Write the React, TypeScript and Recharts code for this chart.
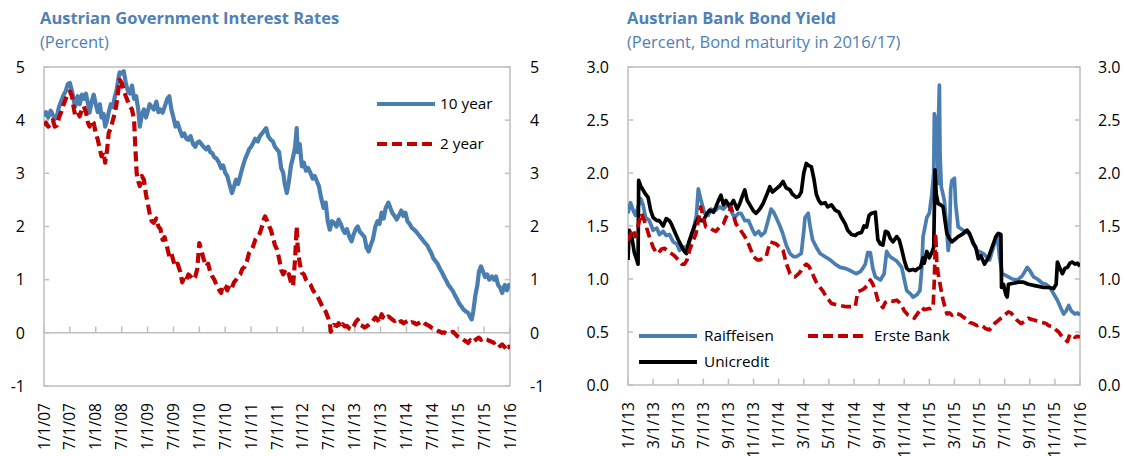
import React from 'react';
import { LineChart, Line, XAxis, YAxis, ReferenceLine, ReferenceArea, Legend } from 'recharts';

const FONT = '"Open Sans", "Noto Sans", sans-serif';
const BLUE = '#4A7EB1';
const RED = '#C00000';
const BORDER = '#BFBFBF';
const TITLE = '#4F81B5';

// ---------- Left chart: Austrian Government Interest Rates ----------
const govTickValues = [2007, 2007.5, 2008, 2008.5, 2009, 2009.5, 2010, 2010.5, 2011, 2011.5, 2012, 2012.5, 2013, 2013.5, 2014, 2014.5, 2015, 2015.5, 2016];
const govTickLabels = ['1/1/07', '7/1/07', '1/1/08', '7/1/08', '1/1/09', '7/1/09', '1/1/10', '7/1/10', '1/1/11', '7/1/11', '1/1/12', '7/1/12', '1/1/13', '7/1/13', '1/1/14', '7/1/14', '1/1/15', '7/1/15', '1/1/16'];
const govYTicks = [-1, 0, 1, 2, 3, 4, 5];

const gov10y: [number, number][] = [
  [2007.00, 4.07], [2007.04, 4.15], [2007.08, 4.05], [2007.13, 4.18], [2007.17, 4.10], [2007.21, 4.02], [2007.25, 4.08], [2007.29, 4.25], [2007.33, 4.35], [2007.38, 4.48], [2007.42, 4.55], [2007.46, 4.68], [2007.50, 4.70], [2007.54, 4.55], [2007.58, 4.35], [2007.60, 4.25], [2007.65, 4.45], [2007.69, 4.30], [2007.73, 4.48], [2007.77, 4.40], [2007.81, 4.50], [2007.85, 4.30], [2007.88, 4.14], [2007.92, 4.35], [2007.96, 4.48],
  [2008.00, 4.30], [2008.04, 4.15], [2008.08, 4.30], [2008.11, 4.05], [2008.15, 4.12], [2008.18, 3.88], [2008.22, 4.00], [2008.25, 4.15], [2008.29, 4.30], [2008.33, 4.25], [2008.37, 4.45], [2008.40, 4.55], [2008.44, 4.80], [2008.46, 4.90], [2008.50, 4.88], [2008.54, 4.92], [2008.58, 4.70], [2008.62, 4.55], [2008.66, 4.50], [2008.70, 4.65], [2008.74, 4.40], [2008.78, 4.45], [2008.82, 4.20], [2008.85, 3.88], [2008.89, 4.10], [2008.93, 4.20], [2008.97, 4.05],
  [2009.00, 4.15], [2009.04, 4.30], [2009.08, 4.25], [2009.12, 4.20], [2009.17, 4.35], [2009.21, 4.15], [2009.25, 4.20], [2009.29, 4.14], [2009.33, 4.25], [2009.38, 4.40], [2009.42, 4.45], [2009.46, 4.20], [2009.50, 4.05], [2009.54, 3.88], [2009.58, 3.95], [2009.63, 3.80], [2009.67, 3.70], [2009.71, 3.75], [2009.75, 3.65], [2009.79, 3.63], [2009.83, 3.70], [2009.88, 3.55], [2009.92, 3.50], [2009.96, 3.58],
  [2010.00, 3.60], [2010.04, 3.55], [2010.08, 3.50], [2010.13, 3.45], [2010.17, 3.50], [2010.21, 3.40], [2010.25, 3.38], [2010.29, 3.30], [2010.33, 3.28], [2010.38, 3.20], [2010.42, 3.10], [2010.46, 3.15], [2010.50, 3.01], [2010.54, 2.95], [2010.58, 2.80], [2010.63, 2.63], [2010.67, 2.75], [2010.71, 2.88], [2010.75, 2.80], [2010.79, 2.95], [2010.83, 3.10], [2010.88, 3.26], [2010.92, 3.35], [2010.96, 3.45],
  [2011.00, 3.50], [2011.04, 3.57], [2011.08, 3.65], [2011.13, 3.60], [2011.17, 3.70], [2011.21, 3.75], [2011.25, 3.80], [2011.29, 3.85], [2011.33, 3.70], [2011.38, 3.63], [2011.42, 3.60], [2011.46, 3.50], [2011.50, 3.45], [2011.54, 3.40], [2011.58, 3.10], [2011.62, 3.01], [2011.65, 2.80], [2011.69, 2.63], [2011.73, 2.85], [2011.77, 3.15], [2011.81, 3.30], [2011.85, 3.50], [2011.88, 3.85], [2011.90, 3.40], [2011.94, 3.55], [2011.98, 3.13],
  [2012.02, 3.20], [2012.06, 3.05], [2012.10, 3.10], [2012.15, 3.00], [2012.19, 2.90], [2012.23, 2.95], [2012.27, 2.85], [2012.31, 2.76], [2012.35, 2.55], [2012.40, 2.35], [2012.44, 2.45], [2012.48, 2.10], [2012.52, 1.94], [2012.56, 2.10], [2012.60, 2.07], [2012.65, 2.00], [2012.69, 2.13], [2012.73, 2.05], [2012.77, 1.95], [2012.81, 1.88], [2012.85, 1.95], [2012.90, 1.80], [2012.94, 1.72], [2012.98, 1.85],
  [2013.02, 1.95], [2013.06, 2.00], [2013.10, 1.90], [2013.15, 1.85], [2013.19, 1.80], [2013.23, 1.60], [2013.27, 1.53], [2013.31, 1.65], [2013.35, 1.75], [2013.40, 2.00], [2013.44, 2.10], [2013.48, 2.05], [2013.52, 2.26], [2013.56, 2.15], [2013.60, 2.35], [2013.65, 2.45], [2013.69, 2.35], [2013.73, 2.25], [2013.77, 2.20], [2013.81, 2.13], [2013.85, 2.20], [2013.90, 2.30], [2013.94, 2.20], [2013.98, 2.26],
  [2014.02, 2.10], [2014.06, 2.05], [2014.10, 1.98], [2014.15, 1.94], [2014.19, 1.90], [2014.23, 1.85], [2014.27, 1.80], [2014.31, 1.75], [2014.35, 1.70], [2014.40, 1.65], [2014.44, 1.57], [2014.48, 1.50], [2014.52, 1.40], [2014.56, 1.35], [2014.60, 1.30], [2014.65, 1.20], [2014.69, 1.13], [2014.73, 1.05], [2014.77, 0.98], [2014.81, 0.90], [2014.85, 0.85], [2014.90, 0.78], [2014.94, 0.70], [2014.98, 0.63],
  [2015.02, 0.55], [2015.06, 0.50], [2015.10, 0.44], [2015.15, 0.40], [2015.19, 0.38], [2015.23, 0.30], [2015.26, 0.25], [2015.29, 0.40], [2015.33, 0.70], [2015.37, 0.90], [2015.40, 1.15], [2015.44, 1.25], [2015.48, 1.15], [2015.52, 1.05], [2015.56, 1.10], [2015.60, 1.00], [2015.65, 1.06], [2015.69, 1.00], [2015.73, 1.06], [2015.77, 0.90], [2015.81, 0.85], [2015.85, 0.75], [2015.90, 0.90], [2015.94, 0.80], [2015.98, 0.90], [2016.00, 0.85],
];

const gov2y: [number, number][] = [
  [2007.00, 3.90], [2007.04, 3.95], [2007.08, 3.88], [2007.13, 3.92], [2007.17, 4.00], [2007.21, 3.88], [2007.25, 3.90], [2007.29, 4.05], [2007.33, 4.15], [2007.38, 4.30], [2007.42, 4.40], [2007.46, 4.50], [2007.50, 4.54], [2007.54, 4.45], [2007.58, 4.20], [2007.60, 4.10], [2007.65, 4.15], [2007.69, 4.07], [2007.73, 4.20], [2007.77, 4.26], [2007.81, 4.15], [2007.85, 3.95], [2007.88, 3.88], [2007.92, 4.00], [2007.96, 3.95],
  [2008.00, 3.75], [2008.04, 3.63], [2008.08, 3.45], [2008.11, 3.32], [2008.15, 3.40], [2008.18, 3.20], [2008.22, 3.45], [2008.25, 3.76], [2008.29, 3.85], [2008.33, 4.00], [2008.37, 4.14], [2008.40, 4.30], [2008.44, 4.60], [2008.46, 4.76], [2008.50, 4.70], [2008.54, 4.57], [2008.58, 4.45], [2008.62, 4.35], [2008.66, 4.26], [2008.70, 4.20], [2008.74, 4.00], [2008.76, 3.57], [2008.79, 3.00], [2008.82, 2.85], [2008.85, 2.76], [2008.89, 2.95], [2008.93, 2.88], [2008.97, 2.60],
  [2009.00, 2.45], [2009.04, 2.25], [2009.08, 2.10], [2009.12, 2.07], [2009.17, 2.15], [2009.21, 2.00], [2009.25, 1.95], [2009.29, 1.75], [2009.33, 1.80], [2009.38, 1.60], [2009.42, 1.44], [2009.46, 1.50], [2009.50, 1.35], [2009.54, 1.25], [2009.58, 1.30], [2009.63, 1.15], [2009.67, 0.95], [2009.71, 1.05], [2009.75, 1.00], [2009.79, 1.10], [2009.83, 1.06], [2009.88, 1.00], [2009.92, 1.05], [2009.96, 1.20],
  [2010.00, 1.69], [2010.04, 1.55], [2010.08, 1.40], [2010.13, 1.25], [2010.17, 1.30], [2010.21, 1.15], [2010.25, 1.06], [2010.29, 1.00], [2010.33, 0.90], [2010.38, 0.81], [2010.42, 0.75], [2010.46, 0.90], [2010.50, 0.88], [2010.54, 0.80], [2010.58, 0.90], [2010.63, 0.85], [2010.67, 0.95], [2010.71, 1.00], [2010.75, 1.06], [2010.79, 1.10], [2010.83, 1.20], [2010.88, 1.25], [2010.92, 1.35], [2010.96, 1.50],
  [2011.00, 1.55], [2011.04, 1.63], [2011.08, 1.75], [2011.13, 1.80], [2011.17, 1.88], [2011.21, 2.00], [2011.25, 2.15], [2011.27, 2.19], [2011.31, 2.10], [2011.35, 2.00], [2011.38, 1.94], [2011.42, 1.80], [2011.46, 1.65], [2011.50, 1.57], [2011.54, 1.40], [2011.58, 1.19], [2011.62, 1.10], [2011.65, 1.15], [2011.69, 1.06], [2011.73, 1.10], [2011.77, 0.95], [2011.81, 0.88], [2011.85, 1.40], [2011.88, 2.00], [2011.90, 1.60], [2011.94, 1.30], [2011.98, 1.13],
  [2012.02, 1.10], [2012.06, 1.00], [2012.10, 0.95], [2012.15, 0.90], [2012.19, 0.81], [2012.23, 0.75], [2012.27, 0.70], [2012.31, 0.63], [2012.35, 0.55], [2012.40, 0.44], [2012.44, 0.40], [2012.48, 0.30], [2012.52, 0.19], [2012.54, 0.02], [2012.56, 0.10], [2012.60, 0.15], [2012.65, 0.13], [2012.69, 0.18], [2012.73, 0.10], [2012.77, 0.16], [2012.81, 0.12], [2012.85, 0.13], [2012.90, 0.08], [2012.94, 0.06], [2012.98, 0.12],
  [2013.02, 0.20], [2013.06, 0.25], [2013.10, 0.15], [2013.15, 0.13], [2013.19, 0.10], [2013.23, 0.12], [2013.27, 0.15], [2013.31, 0.18], [2013.35, 0.22], [2013.40, 0.29], [2013.44, 0.25], [2013.48, 0.19], [2013.52, 0.35], [2013.56, 0.28], [2013.60, 0.25], [2013.65, 0.31], [2013.69, 0.28], [2013.73, 0.25], [2013.77, 0.22], [2013.81, 0.25], [2013.85, 0.20], [2013.90, 0.22], [2013.94, 0.18], [2013.98, 0.20],
  [2014.02, 0.22], [2014.06, 0.18], [2014.10, 0.20], [2014.15, 0.19], [2014.19, 0.16], [2014.23, 0.18], [2014.27, 0.20], [2014.31, 0.22], [2014.35, 0.18], [2014.40, 0.15], [2014.44, 0.13], [2014.48, 0.10], [2014.52, 0.08], [2014.56, 0.06], [2014.60, 0.04], [2014.65, 0.02], [2014.69, 0.00], [2014.73, 0.01], [2014.77, -0.01], [2014.81, 0.00], [2014.85, 0.00], [2014.90, 0.02], [2014.94, -0.02], [2014.98, -0.06],
  [2015.02, -0.08], [2015.06, -0.10], [2015.10, -0.13], [2015.15, -0.16], [2015.19, -0.19], [2015.23, -0.14], [2015.27, -0.18], [2015.31, -0.15], [2015.35, -0.12], [2015.40, -0.09], [2015.44, -0.13], [2015.48, -0.10], [2015.52, -0.12], [2015.56, -0.13], [2015.60, -0.15], [2015.65, -0.17], [2015.69, -0.19], [2015.73, -0.16], [2015.77, -0.21], [2015.81, -0.25], [2015.85, -0.22], [2015.90, -0.27], [2015.94, -0.32], [2015.98, -0.26], [2016.00, -0.30],
];

// ---------- Right chart: Austrian Bank Bond Yield (x = months since 1/1/13) ----------
const bankTickValues = [0, 2, 4, 6, 8, 10, 12, 14, 16, 18, 20, 22, 24, 26, 28, 30, 32, 34, 36];
const bankTickLabels = ['1/1/13', '3/1/13', '5/1/13', '7/1/13', '9/1/13', '11/1/13', '1/1/14', '3/1/14', '5/1/14', '7/1/14', '9/1/14', '11/1/14', '1/1/15', '3/1/15', '5/1/15', '7/1/15', '9/1/15', '11/1/15', '1/1/16'];
const bankYTicks = [0, 0.5, 1, 1.5, 2, 2.5, 3];

const raiffeisen: [number, number][] = [
  [0, 1.62], [0.2, 1.72], [0.4, 1.65], [0.6, 1.60], [0.8, 1.68], [1.0, 1.76], [1.2, 1.70], [1.4, 1.58], [1.7, 1.55], [2.0, 1.46], [2.3, 1.48], [2.5, 1.42], [2.8, 1.45], [3.05, 1.41], [3.3, 1.42], [3.6, 1.35], [3.9, 1.33], [4.1, 1.27], [4.4, 1.30], [4.65, 1.30], [4.9, 1.35], [5.2, 1.46], [5.45, 1.60], [5.6, 1.85], [5.8, 1.75],
  [6.1, 1.62], [6.4, 1.60], [6.6, 1.66], [6.9, 1.64], [7.3, 1.68], [7.6, 1.66], [8.0, 1.71], [8.3, 1.62], [8.5, 1.58], [8.8, 1.62], [9.0, 1.62], [9.3, 1.55], [9.6, 1.55], [9.9, 1.47], [10.1, 1.42], [10.4, 1.45], [10.6, 1.41], [10.9, 1.44], [11.15, 1.55], [11.4, 1.66], [11.6, 1.63], [11.8, 1.58],
  [12.1, 1.50], [12.35, 1.42], [12.6, 1.32], [12.9, 1.24], [13.2, 1.21], [13.4, 1.21], [13.8, 1.24], [14.0, 1.45], [14.1, 1.58], [14.35, 1.62], [14.5, 1.50], [14.7, 1.37], [15.0, 1.30], [15.3, 1.24], [15.7, 1.21], [16.1, 1.18], [16.5, 1.14], [16.9, 1.11], [17.3, 1.10], [17.7, 1.08], [18.0, 1.06], [18.2, 1.05], [18.5, 1.07], [18.7, 1.10], [18.9, 1.14], [19.1, 1.25], [19.3, 1.25], [19.5, 1.10], [19.7, 1.02],
  [20.1, 0.99], [20.4, 1.05], [20.6, 1.26], [20.8, 1.22], [21.0, 1.20], [21.4, 1.17], [21.8, 1.11], [22.0, 1.00], [22.2, 0.89], [22.5, 0.86], [22.7, 0.83], [23.0, 0.85], [23.25, 0.89], [23.4, 1.10], [23.5, 1.40], [23.8, 1.58], [24.0, 1.62], [24.2, 1.80], [24.35, 2.00], [24.4, 2.56], [24.5, 2.50], [24.6, 2.43], [24.7, 1.90], [24.75, 2.60], [24.8, 2.83], [24.85, 2.20], [24.95, 1.87],
  [25.2, 1.74], [25.4, 1.45], [25.5, 1.27], [25.6, 1.35], [25.7, 1.85], [25.8, 1.93], [26.0, 1.95], [26.1, 1.70], [26.3, 1.49], [26.7, 1.46], [27.0, 1.44], [27.2, 1.42], [27.5, 1.33], [27.8, 1.27], [28.3, 1.24], [28.8, 1.18], [29.1, 1.30], [29.4, 1.42], [29.6, 1.20], [29.8, 1.05],
  [30.3, 1.02], [30.6, 1.00], [31.0, 0.99], [31.4, 1.03], [31.8, 1.11], [32.0, 1.08], [32.3, 1.02], [32.6, 1.00], [33.0, 0.96], [33.3, 0.95], [33.6, 0.92], [33.9, 0.86], [34.2, 0.80], [34.5, 0.72], [34.7, 0.67], [34.9, 0.70], [35.1, 0.75], [35.3, 0.70], [35.6, 0.67], [35.8, 0.68], [36.0, 0.66],
];

const unicredit: [number, number][] = [
  [0, 1.18], [0.1, 1.46], [0.3, 1.40], [0.5, 1.25], [0.7, 1.18], [0.8, 1.14], [0.85, 1.93], [1.0, 1.88], [1.2, 1.84], [1.4, 1.80], [1.6, 1.77], [1.8, 1.65], [2.0, 1.58], [2.3, 1.55], [2.5, 1.55], [2.8, 1.50], [3.05, 1.57], [3.3, 1.55], [3.45, 1.52], [3.7, 1.45], [4.0, 1.37], [4.3, 1.30], [4.5, 1.26], [4.65, 1.24], [4.85, 1.35], [5.05, 1.42], [5.3, 1.50], [5.6, 1.58], [5.8, 1.55],
  [6.0, 1.55], [6.3, 1.62], [6.5, 1.65], [6.8, 1.63], [7.0, 1.68], [7.2, 1.74], [7.4, 1.79], [7.6, 1.70], [7.8, 1.74], [8.1, 1.68], [8.4, 1.74], [8.7, 1.66], [8.9, 1.71], [9.1, 1.78], [9.3, 1.84], [9.5, 1.74], [9.8, 1.68], [10.0, 1.64], [10.2, 1.62], [10.5, 1.66], [10.75, 1.71], [11.0, 1.78], [11.3, 1.87], [11.5, 1.82], [11.8, 1.85],
  [12.1, 1.88], [12.35, 1.92], [12.6, 1.86], [12.9, 1.84], [13.1, 1.80], [13.4, 1.77], [13.6, 1.78], [13.8, 1.82], [14.0, 2.00], [14.2, 2.09], [14.4, 2.07], [14.6, 2.06], [14.8, 1.95], [15.0, 1.80], [15.2, 1.74], [15.4, 1.71], [15.7, 1.72], [15.9, 1.68], [16.2, 1.70], [16.5, 1.65], [16.8, 1.63], [17.0, 1.58], [17.3, 1.52], [17.5, 1.46], [17.8, 1.42], [18.1, 1.41], [18.3, 1.43], [18.6, 1.44], [18.8, 1.50], [19.0, 1.49], [19.2, 1.60], [19.4, 1.62], [19.7, 1.63], [19.9, 1.37],
  [20.1, 1.33], [20.3, 1.32], [20.5, 1.45], [20.7, 1.44], [20.9, 1.38], [21.1, 1.35], [21.4, 1.40], [21.6, 1.37], [21.8, 1.28], [22.0, 1.18], [22.2, 1.10], [22.4, 1.08], [22.7, 1.09], [22.9, 1.08], [23.1, 1.10], [23.3, 1.11], [23.5, 1.20], [23.6, 1.15], [23.8, 1.26],
  [24.0, 1.20], [24.2, 1.25], [24.35, 1.30], [24.45, 2.03], [24.55, 1.80], [24.7, 1.71], [24.9, 1.70], [25.1, 1.68], [25.25, 1.55], [25.4, 1.43], [25.6, 1.38], [25.8, 1.35], [26.0, 1.37], [26.3, 1.40], [26.6, 1.42], [27.0, 1.46], [27.2, 1.43], [27.5, 1.34], [27.7, 1.30], [27.9, 1.19], [28.1, 1.22], [28.4, 1.14], [28.7, 1.20], [29.0, 1.30], [29.3, 1.40], [29.5, 1.43], [29.7, 1.42], [29.75, 0.92], [29.9, 0.95],
  [30.1, 0.85], [30.2, 0.83], [30.3, 0.95], [30.7, 0.96], [31.1, 0.97], [31.5, 0.97], [31.9, 0.95], [32.3, 0.94], [32.7, 0.93], [33.1, 0.92], [33.5, 0.92], [33.9, 0.91], [34.1, 0.95], [34.2, 1.16], [34.4, 1.10], [34.6, 1.05], [34.8, 1.10], [35.0, 1.11], [35.2, 1.15], [35.4, 1.16], [35.6, 1.14], [35.8, 1.15], [36.0, 1.12],
];

const erste: [number, number][] = [
  [0, 1.36], [0.2, 1.42], [0.4, 1.47], [0.6, 1.40], [0.8, 1.50], [1.06, 1.62], [1.3, 1.55], [1.46, 1.49], [1.7, 1.40], [2.0, 1.30], [2.2, 1.26], [2.4, 1.24], [2.65, 1.28], [2.9, 1.29], [3.2, 1.26], [3.45, 1.24], [3.7, 1.22], [4.0, 1.18], [4.3, 1.14], [4.5, 1.14], [4.7, 1.18], [4.9, 1.27], [5.15, 1.35], [5.4, 1.42], [5.6, 1.55], [5.8, 1.68],
  [6.0, 1.58], [6.2, 1.49], [6.5, 1.48], [6.8, 1.46], [7.0, 1.45], [7.3, 1.49], [7.6, 1.52], [7.8, 1.58], [8.0, 1.62], [8.2, 1.68], [8.4, 1.60], [8.6, 1.52], [8.9, 1.47], [9.2, 1.42], [9.4, 1.38], [9.6, 1.33], [9.8, 1.27], [10.0, 1.21], [10.3, 1.18], [10.5, 1.18], [10.8, 1.20], [11.0, 1.21], [11.2, 1.30], [11.3, 1.35], [11.6, 1.34], [11.8, 1.33],
  [12.1, 1.30], [12.35, 1.27], [12.6, 1.15], [12.9, 1.05], [13.1, 1.03], [13.3, 1.02], [13.6, 1.05], [13.8, 1.08], [14.0, 1.12], [14.2, 1.14], [14.4, 1.12], [14.6, 1.08], [14.8, 1.02], [15.0, 0.97], [15.3, 0.92], [15.5, 0.89], [15.8, 0.83], [16.0, 0.80], [16.2, 0.77], [16.5, 0.76], [16.9, 0.75], [17.3, 0.74], [17.7, 0.74], [18.1, 0.74], [18.3, 0.88], [18.5, 0.89], [18.7, 0.90], [18.9, 0.92], [19.1, 0.95], [19.3, 0.99], [19.5, 0.95], [19.7, 0.89], [19.9, 0.80],
  [20.1, 0.76], [20.3, 0.73], [20.5, 0.78], [20.8, 0.80], [21.1, 0.79], [21.4, 0.80], [21.6, 0.78], [21.8, 0.75], [22.0, 0.70], [22.3, 0.66], [22.5, 0.65], [22.8, 0.63], [23.1, 0.68], [23.4, 0.73], [23.6, 0.71], [23.9, 0.72],
  [24.1, 0.72], [24.3, 0.73], [24.4, 1.00], [24.5, 1.43], [24.6, 1.15], [24.7, 1.05], [24.9, 0.92], [25.1, 0.80], [25.4, 0.67], [25.6, 0.68], [25.8, 0.66], [26.0, 0.68], [26.3, 0.67], [26.5, 0.66], [26.7, 0.64], [27.0, 0.62], [27.2, 0.59], [27.5, 0.58], [27.8, 0.56], [28.0, 0.57], [28.3, 0.55], [28.5, 0.53], [28.8, 0.52], [29.0, 0.55], [29.2, 0.58], [29.5, 0.61], [29.8, 0.64],
  [30.0, 0.66], [30.3, 0.69], [30.5, 0.68], [30.8, 0.64], [31.0, 0.61], [31.3, 0.58], [31.6, 0.60], [31.9, 0.63], [32.1, 0.62], [32.4, 0.61], [32.7, 0.60], [33.0, 0.59], [33.3, 0.58], [33.5, 0.56], [33.8, 0.55], [34.0, 0.53], [34.3, 0.50], [34.6, 0.45], [34.8, 0.43], [35.0, 0.41], [35.2, 0.48], [35.4, 0.47], [35.6, 0.45], [35.8, 0.46], [36.0, 0.45],
];

const toRows = (pts: [number, number][]) => pts.map(([t, v]) => ({ t, v }));

const makeXTick = (values: number[], labels: string[]) => (props: any) => {
  const { x, y, payload } = props;
  const idx = values.indexOf(payload.value);
  const label = idx >= 0 ? labels[idx] : '';
  return (
    <text x={x} y={y} transform={`rotate(-90 ${x} ${y})`} textAnchor="end" dy="0.36em" fontSize={15.6} fill="#000" fontFamily={FONT}>
      {label}
    </text>
  );
};

const titleStyle: React.CSSProperties = { position: 'absolute', fontFamily: FONT, fontSize: 16.5, color: TITLE, whiteSpace: 'nowrap', lineHeight: '20px' };

const GovLegend = () => (
  <svg width={150} height={70}>
    <line x1={7} x2={65} y1={14} y2={14} stroke={BLUE} strokeWidth={4} />
    <text x={70} y={14} dy="0.35em" fontSize={15.3} fontFamily={FONT} fill="#000">10 year</text>
    <line x1={7} x2={65} y1={54} y2={54} stroke={RED} strokeWidth={4} strokeDasharray="10 5" />
    <text x={70} y={54} dy="0.35em" fontSize={15.3} fontFamily={FONT} fill="#000">2 year</text>
  </svg>
);

const BankLegend = () => (
  <svg width={400} height={60}>
    <line x1={9} x2={67} y1={16} y2={16} stroke={BLUE} strokeWidth={4} />
    <text x={74} y={16} dy="0.35em" fontSize={15.3} fontFamily={FONT} fill="#000">Raiffeisen</text>
    <line x1={178} x2={236} y1={16} y2={16} stroke={RED} strokeWidth={4} strokeDasharray="10 5" />
    <text x={244} y={16} dy="0.35em" fontSize={15.3} fontFamily={FONT} fill="#000">Erste Bank</text>
    <line x1={9} x2={67} y1={42} y2={42} stroke="#000" strokeWidth={4} />
    <text x={74} y={42} dy="0.35em" fontSize={15.3} fontFamily={FONT} fill="#000">Unicredit</text>
  </svg>
);

const yTickStyle = { fontSize: 16, fill: '#000', fontFamily: FONT };

export default function App() {
  const g10 = toRows(gov10y);
  const g2 = toRows(gov2y);
  const rf = toRows(raiffeisen);
  const uc = toRows(unicredit);
  const er = toRows(erste);
  return (
    <div style={{ position: 'absolute', left: 0, top: 0, width: 1125, height: 456, background: '#fff', overflow: 'hidden', fontFamily: FONT }}>
      <div style={{ ...titleStyle, left: 40, top: 8, fontWeight: 700 }}>Austrian Government Interest Rates</div>
      <div style={{ ...titleStyle, left: 40, top: 32 }}>(Percent)</div>
      <div style={{ ...titleStyle, left: 627, top: 8, fontWeight: 700 }}>Austrian Bank Bond Yield</div>
      <div style={{ ...titleStyle, left: 627, top: 32 }}>(Percent, Bond maturity in 2016/17)</div>

      <div style={{ position: 'absolute', left: 0, top: 0 }}>
        <LineChart width={560} height={456} margin={{ top: 67, right: 10, bottom: 10, left: 0 }}>
          <XAxis dataKey="t" type="number" domain={[2007, 2016]} ticks={govTickValues} interval={0} axisLine={false} tickLine={false} height={60} tickMargin={11} tick={makeXTick(govTickValues, govTickLabels)} allowDataOverflow />
          <YAxis yAxisId="left" domain={[-1, 5]} ticks={govYTicks} interval={0} width={44} axisLine={false} tickLine={false} tickMargin={13} tick={yTickStyle} allowDataOverflow />
          <YAxis yAxisId="right" orientation="right" domain={[-1, 5]} ticks={govYTicks} interval={0} width={40} axisLine={false} tickLine={false} tickMargin={14} tick={{ ...yTickStyle, textAnchor: 'start' }} allowDataOverflow />
          <ReferenceArea yAxisId="left" x1={2007} x2={2016} y1={-1} y2={5} fill="none" stroke={BORDER} strokeWidth={1.5} />
          <ReferenceLine yAxisId="left" y={0} stroke={BORDER} strokeWidth={1.5} />
          {govTickValues.map((t) => (
            <ReferenceLine key={`gx${t}`} yAxisId="left" segment={[{ x: t, y: 0 }, { x: t, y: 0.12 }]} stroke={BORDER} strokeWidth={1.5} />
          ))}
          {govYTicks.map((v) => (
            <ReferenceLine key={`gyl${v}`} yAxisId="left" segment={[{ x: 2007, y: v }, { x: 2007.1, y: v }]} stroke={BORDER} strokeWidth={1.5} />
          ))}
          {govYTicks.map((v) => (
            <ReferenceLine key={`gyr${v}`} yAxisId="left" segment={[{ x: 2015.9, y: v }, { x: 2016, y: v }]} stroke={BORDER} strokeWidth={1.5} />
          ))}
          <Line yAxisId="left" data={g10} dataKey="v" name="10 year" stroke={BLUE} strokeWidth={4.2} dot={false} isAnimationActive={false} strokeLinejoin="round" />
          <Line yAxisId="left" data={g2} dataKey="v" name="2 year" stroke={RED} strokeWidth={4.2} strokeDasharray="10 5" dot={false} isAnimationActive={false} strokeLinejoin="round" />
          <Legend layout="horizontal" verticalAlign="middle" align="center" content={() => <GovLegend />} wrapperStyle={{ position: 'absolute', left: 370, top: 90, width: 150, height: 70 }} />
        </LineChart>
      </div>

      <div style={{ position: 'absolute', left: 560, top: 0 }}>
        <LineChart width={565} height={456} margin={{ top: 67, right: 5, bottom: 11, left: 0 }}>
          <XAxis dataKey="t" type="number" domain={[0, 36]} ticks={bankTickValues} interval={0} axisLine={false} tickLine={false} height={60} tickMargin={11} tick={makeXTick(bankTickValues, bankTickLabels)} allowDataOverflow />
          <YAxis yAxisId="left" domain={[0, 3]} ticks={bankYTicks} interval={0} width={68} axisLine={false} tickLine={false} tickMargin={13} tick={yTickStyle} tickFormatter={(v: number) => v.toFixed(1)} allowDataOverflow />
          <YAxis yAxisId="right" orientation="right" domain={[0, 3]} ticks={bankYTicks} interval={0} width={40} axisLine={false} tickLine={false} tickMargin={12} tick={{ ...yTickStyle, textAnchor: 'start' }} tickFormatter={(v: number) => v.toFixed(1)} allowDataOverflow />
          <ReferenceArea yAxisId="left" x1={0} x2={36} y1={0} y2={3} fill="none" stroke={BORDER} strokeWidth={1.5} />
          {bankTickValues.map((t) => (
            <ReferenceLine key={`bx${t}`} yAxisId="left" segment={[{ x: t, y: 0 }, { x: t, y: 0.06 }]} stroke={BORDER} strokeWidth={1.5} />
          ))}
          {bankYTicks.map((v) => (
            <ReferenceLine key={`byl${v}`} yAxisId="left" segment={[{ x: 0, y: v }, { x: 0.4, y: v }]} stroke={BORDER} strokeWidth={1.5} />
          ))}
          {bankYTicks.map((v) => (
            <ReferenceLine key={`byr${v}`} yAxisId="left" segment={[{ x: 35.6, y: v }, { x: 36, y: v }]} stroke={BORDER} strokeWidth={1.5} />
          ))}
          <Line yAxisId="left" data={rf} dataKey="v" name="Raiffeisen" stroke={BLUE} strokeWidth={3.7} dot={false} isAnimationActive={false} strokeLinejoin="round" />
          <Line yAxisId="left" data={uc} dataKey="v" name="Unicredit" stroke="#000" strokeWidth={3.7} dot={false} isAnimationActive={false} strokeLinejoin="round" />
          <Line yAxisId="left" data={er} dataKey="v" name="Erste Bank" stroke={RED} strokeWidth={3.7} strokeDasharray="10 5" dot={false} isAnimationActive={false} strokeLinejoin="round" />
          <Legend layout="horizontal" verticalAlign="middle" align="center" content={() => <BankLegend />} wrapperStyle={{ position: 'absolute', left: 70, top: 320, width: 400, height: 60 }} />
        </LineChart>
      </div>
    </div>
  );
}
